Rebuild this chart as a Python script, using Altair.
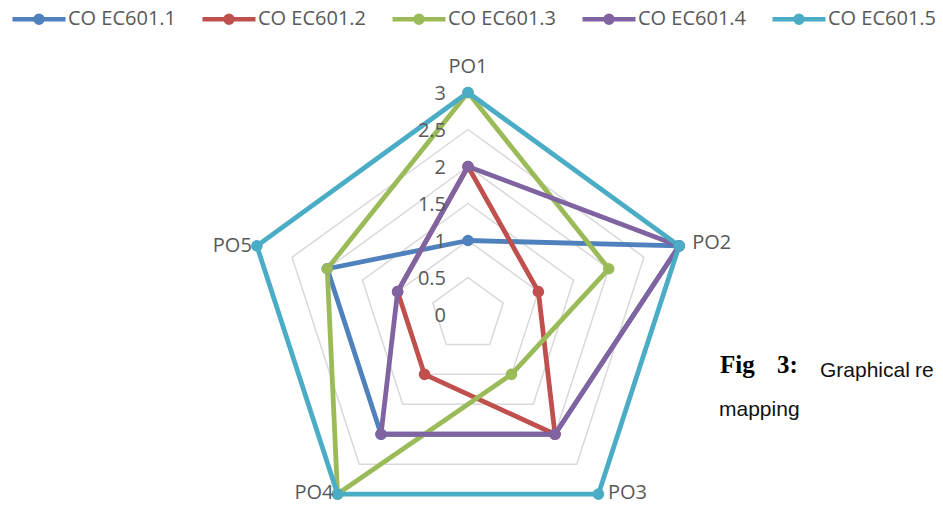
import altair as alt
import pandas as pd

# ---------------- data ----------------
categories = ["PO1", "PO2", "PO3", "PO4", "PO5"]
series_names = ["CO EC601.1", "CO EC601.2", "CO EC601.3", "CO EC601.4", "CO EC601.5"]
co_ec601_1 = [1, 3, 2, 2, 2]
co_ec601_2 = [2, 1, 2, 1, 1]
co_ec601_3 = [3, 2, 1, 3, 2]
co_ec601_4 = [2, 3, 2, 2, 1]
co_ec601_5 = [3, 3, 3, 3, 3]
series_colors = ["#4F81BD", "#C0504D", "#9BBB59", "#8064A2", "#4BACC6"]
grid_levels = [0.5, 1.0, 1.5, 2.0, 2.5, 3.0]
tick_values = [0, 0.5, 1, 1.5, 2, 2.5, 3]
tick_labels = ["0", "0.5", "1", "1.5", "2", "2.5", "3"]
max_value = 3

all_series = [co_ec601_1, co_ec601_2, co_ec601_3, co_ec601_4, co_ec601_5]
n_cat = len(categories)

rows = []
for name, vals in zip(series_names, all_series):
    for i in range(n_cat + 1):
        k = i % n_cat
        rows.append({"series": name, "category": categories[k], "idx": i,
                     "value": vals[k], "closing": i == n_cat})
series_df = pd.DataFrame(rows)

grid_df = pd.DataFrame([{"level": lv, "idx": i} for lv in grid_levels for i in range(n_cat + 1)])
ticks_df = pd.DataFrame({"value": tick_values, "label": tick_labels})
cat_df = pd.DataFrame({"category": categories, "idx": list(range(n_cat)), "value": [max_value] * n_cat})

# ---------------- layout ----------------
W, H = 927, 497
CX, CY = 460, 306.5      # centre of radar inside plot area (px)
PPU = 74.0               # pixels per value unit
xs = alt.Scale(domain=[-CX / PPU, (W - CX) / PPU], nice=False, zero=False)
ys = alt.Scale(domain=[-(H - CY) / PPU, CY / PPU], nice=False, zero=False)
X = alt.X("x:Q", scale=xs, axis=None)
Y = alt.Y("y:Q", scale=ys, axis=None)

polar_x = "datum.{f} * sin(datum.idx * 2 * PI / %d)" % n_cat
polar_y = "datum.{f} * cos(datum.idx * 2 * PI / %d)" % n_cat

TXT = "#595959"
FONT = "Open Sans"

a_r = 0.132
b_r = 0.05
sym_path = ("M-1,0H1"
            "M{a},0A{a},{a} 0 1 1 -{a},0A{a},{a} 0 1 1 {a},0"
            "M{b},0A{b},{b} 0 1 1 -{b},0A{b},{b} 0 1 1 {b},0").format(a=a_r, b=b_r)

legend = alt.Legend(
    title=None, orient="none", direction="horizontal", columns=5,
    legendX=2, legendY=-18, padding=0,
    symbolType=sym_path, symbolSize=2809, symbolStrokeWidth=4.5,
    labelFont=FONT, labelFontSize=20, labelColor=TXT, labelOffset=0,
    labelLimit=0, columnPadding=16,
)
color_scale = alt.Scale(domain=series_names, range=series_colors)

grid = alt.Chart(grid_df).transform_calculate(
    x=polar_x.format(f="level"), y=polar_y.format(f="level")
).mark_line(color="#d9d9d9", strokeWidth=1.5).encode(
    x=X, y=Y, detail="level:N", order="idx:Q")

lines = alt.Chart(series_df).transform_calculate(
    x=polar_x.format(f="value"), y=polar_y.format(f="value")
).mark_line(strokeWidth=4.8, strokeJoin="round").encode(
    x=X, y=Y, color=alt.Color("series:N", scale=color_scale, legend=legend), order="idx:Q")

points = alt.Chart(series_df).transform_filter("!datum.closing").transform_calculate(
    x=polar_x.format(f="value"), y=polar_y.format(f="value")
).mark_circle(size=135, opacity=1).encode(
    x=X, y=Y, color=alt.Color("series:N", scale=color_scale, legend=None))

ticks = alt.Chart(ticks_df).transform_calculate(
    x="0", y="datum.value"
).mark_text(align="right", baseline="middle", dx=-22, dy=1.5,
            font=FONT, fontSize=20, color=TXT).encode(x=X, y=Y, text="label:N")

label_style = {
    "PO1": dict(align="center", dx=0, dy=-25.5),
    "PO2": dict(align="left", dx=13, dy=-3),
    "PO3": dict(align="left", dx=9.5, dy=-1),
    "PO4": dict(align="right", dx=-4, dy=-1),
    "PO5": dict(align="right", dx=-5, dy=0),
}
cat_layers = []
for c in categories:
    st = label_style[c]
    cat_layers.append(
        alt.Chart(cat_df).transform_filter(alt.datum.category == c).transform_calculate(
            x=polar_x.format(f="value"), y=polar_y.format(f="value")
        ).mark_text(baseline="middle", font=FONT, fontSize=20, color=TXT, **st).encode(
            x=X, y=Y, text="category:N")
    )

def caption(text, px, py, **kw):
    return alt.Chart(pd.DataFrame({"t": [text]})).mark_text(
        align="left", baseline="alphabetic", **kw
    ).encode(x=alt.value(px), y=alt.value(py), text="t:N")

captions = [
    caption("Fig", 712, 365, font="Liberation Serif", fontSize=25, fontWeight="bold", color="#000000"),
    caption("3:", 769, 365, font="Liberation Serif", fontSize=25, fontWeight="bold", color="#000000"),
    caption("Graphical", 812, 369, font="Liberation Sans", fontSize=21, color="#111111"),
    caption("re", 907, 369, font="Liberation Sans", fontSize=21, color="#111111"),
    caption("mapping", 711, 408, font="Liberation Sans", fontSize=21, color="#111111"),
]

chart = alt.layer(grid, lines, points, ticks, *cat_layers, *captions).properties(
    width=W, height=H, padding=0, autosize=alt.AutoSizeParams(type="none"),
    background="white",
).configure_view(strokeWidth=0)

chart.save("out.html", embed_options={"renderer": "svg", "actions": False})
